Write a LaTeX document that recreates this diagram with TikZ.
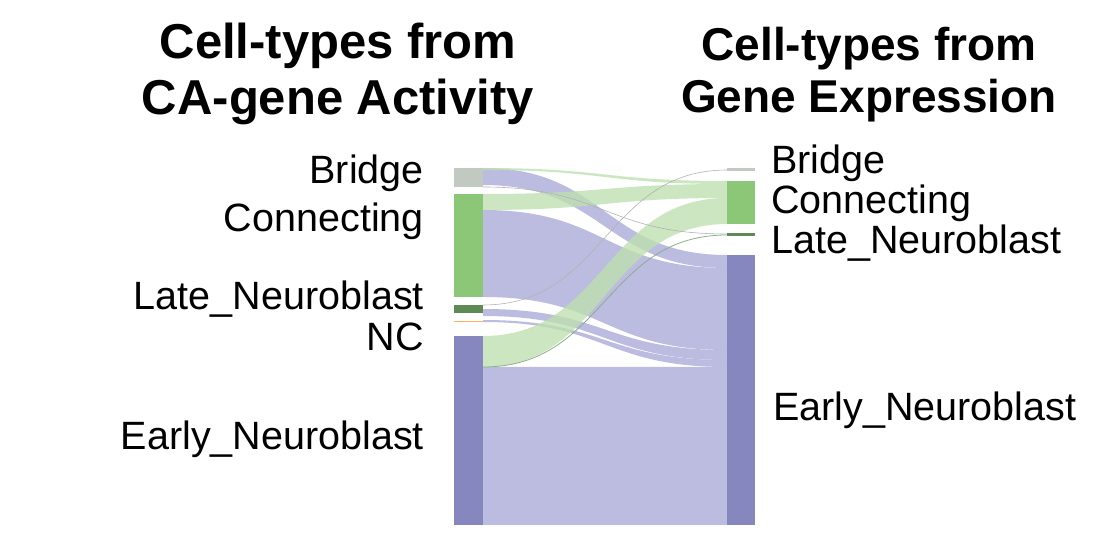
\documentclass[tikz,border=0pt]{standalone}
\usepackage{fontspec}
\setmainfont{Liberation Sans}
\begin{document}
\begin{tikzpicture}[x=1pt,y=-1pt,
  bar/.style={draw=none,inner sep=0,minimum width=29pt},
  lab/.style={font=\fontsize{39.5}{44}\selectfont,inner sep=0},
  ttl/.style={font=\bfseries\fontsize{49}{56}\selectfont,align=center,inner sep=0}]
\definecolor{cb}{HTML}{C2C9C0}\definecolor{cg}{HTML}{8CC777}
\definecolor{cl}{HTML}{5F8A55}\definecolor{ce}{HTML}{8587BE}
\definecolor{fp}{HTML}{B0B0DC}\definecolor{fg}{HTML}{BEE0B0}
\tikzset{pflow/.style={fill=fp,fill opacity=0.85,draw=none},gflow/.style={fill=fg,fill opacity=0.8,draw=none}}
\useasboundingbox (0,0) rectangle (1104,534);
\newcommand\flow[5]{\fill[#5] (483,#1) .. controls (605,#1) and (605,#3) .. (727,#3) -- (727,#4) .. controls (605,#4) and (605,#2) .. (483,#2) -- cycle;}
% flows
\flow{367}{525}{367}{525}{pflow}
\flow{168}{185}{255}{268}{pflow}
\flow{210}{297}{268}{350}{pflow}
\flow{309}{316}{350}{360}{pflow}
\flow{320}{322}{360}{367}{pflow}
\flow{194}{210}{184}{198}{gflow}
\flow{168}{170}{181}{184}{gflow}
\flow{336}{367}{198}{224}{gflow}
\draw[gray!60,line width=0.6pt] (483,305) .. controls (605,305) and (605,170) .. (727,170);
\draw[gray!60,line width=0.6pt] (483,187) .. controls (605,187) and (605,234) .. (727,234);
\draw[cl!70,line width=0.8pt] (483,367) .. controls (605,367) and (605,235) .. (727,235);
% bars
\node[bar,fill=cb,minimum height=19pt,anchor=north west] (lB) at (454,168) {};
\node[bar,fill=cg,minimum height=103pt,anchor=north west] (lC) at (454,194) {};
\node[bar,fill=cl,minimum height=8pt,anchor=north west] (lL) at (454,305) {};
\node[bar,fill=orange!60,minimum height=1pt,anchor=north west] (lN) at (454,321) {};
\node[bar,fill=ce,minimum height=189pt,anchor=north west] (lE) at (454,336) {};
\node[bar,fill=cb,minimum height=3pt,minimum width=28pt,anchor=north west] (rB) at (727,168) {};
\node[bar,fill=cg,minimum height=43pt,minimum width=28pt,anchor=north west] (rC) at (727,181) {};
\node[bar,fill=cl,minimum height=3pt,minimum width=28pt,anchor=north west] (rL) at (727,233) {};
\node[bar,fill=ce,minimum height=270pt,minimum width=28pt,anchor=north west] (rE) at (727,255) {};
% labels
\node[lab,anchor=east] (tlB) at (424,173) {Bridge};
\node[lab,anchor=east] (tlC) at (424,221) {Connecting};
\node[lab,anchor=east] (tlL) at (424,299) {Late\_Neuroblast};
\node[lab,anchor=east] (tlN) at (424,337) {NC};
\node[lab,anchor=east] (tlE) at (424,439) {Early\_Neuroblast};
\node[lab,anchor=west] (trB) at (771,163) {Bridge};
\node[lab,anchor=west] (trC) at (771,203) {Connecting};
\node[lab,anchor=west] (trL) at (771,243) {Late\_Neuroblast};
\node[lab,anchor=west] (trE) at (773,410) {Early\_Neuroblast};
\node[ttl] (t1) at (338,74) {Cell-types from\\CA-gene Activity};
\node[ttl,font=\bfseries\fontsize{46}{52}\selectfont] (t2) at (869,75) {Cell-types from\\Gene Expression};
\end{tikzpicture}
\end{document}
